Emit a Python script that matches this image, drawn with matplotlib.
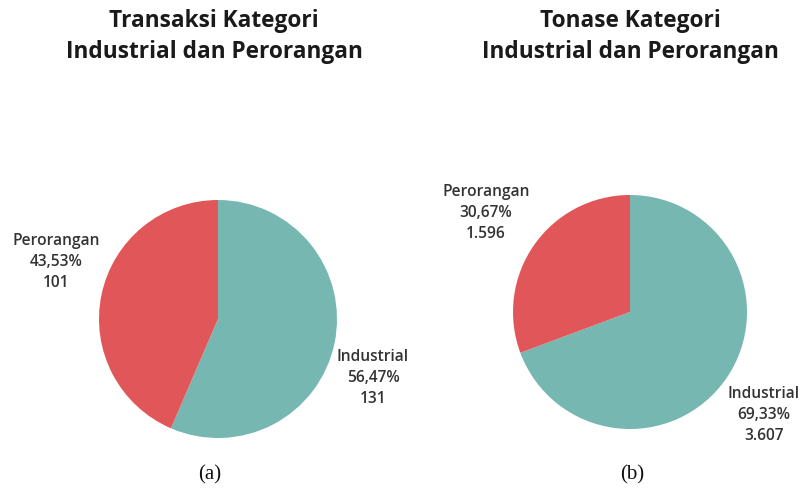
import matplotlib
matplotlib.use("Agg")
import matplotlib.pyplot as plt

W, H = 801, 488

categories = ["Industrial", "Perorangan"]
pct_transaksi = [56.47, 43.53]
val_transaksi = ["131", "101"]
pct_tonase = [69.33, 30.67]
val_tonase = ["3.607", "1.596"]

titles = ["Transaksi Kategori\nIndustrial dan Perorangan",
          "Tonase Kategori\nIndustrial dan Perorangan"]
captions = ["(a)", "(b)"]

colors = ["#76b7b2", "#e15759"]


def px_axes(fig, cx, cy, r):
    # axes placed by pixel center / radius (top-left origin)
    return fig.add_axes([(cx - r) / W, 1 - (cy + r) / H, 2 * r / W, 2 * r / H])


def px_text(fig, x, y, s, **kw):
    fig.text(x / W, 1 - y / H, s, ha="center", va="center", **kw)


fig = plt.figure(figsize=(W / 100, H / 100), dpi=100)

panels = [
    dict(pct=pct_transaksi, val=val_transaksi, c=(218, 319), r=119,
         title_x=214, caption_x=210,
         lab={"Industrial": (373, 378), "Perorangan": (56, 262)}),
    dict(pct=pct_tonase, val=val_tonase, c=(630, 312), r=117,
         title_x=630, caption_x=632,
         lab={"Industrial": (764, 415), "Perorangan": (486, 213)}),
]

for i, p in enumerate(panels):
    ax = px_axes(fig, p["c"][0], p["c"][1], p["r"])
    ax.pie(p["pct"], colors=colors, startangle=90, counterclock=False,
           radius=1, wedgeprops=dict(linewidth=0))
    ax.set_xlim(-1, 1)
    ax.set_ylim(-1, 1)
    ax.set_aspect("equal")
    ax.axis("off")

    line1, line2 = titles[i].split("\n")
    px_text(fig, p["title_x"], 21, line1, fontsize=16.3,
            fontweight="bold", family="Open Sans", color="#1a1a1a")
    px_text(fig, p["title_x"], 52, line2, fontsize=16.3,
            fontweight="bold", family="Open Sans", color="#1a1a1a")

    for cat, pct, v in zip(categories, p["pct"], p["val"]):
        x, y = p["lab"][cat]
        txt = f"{cat}\n{pct:.2f}%".replace(".", ",") + f"\n{v}"
        px_text(fig, x, y, txt, fontsize=11.2, fontweight="semibold",
                family="Open Sans", color="#333333", linespacing=1.45)

    px_text(fig, p["caption_x"], 475, captions[i], fontsize=15,
            family="Liberation Serif", color="#111111")

fig.savefig("out.png", dpi=100)
